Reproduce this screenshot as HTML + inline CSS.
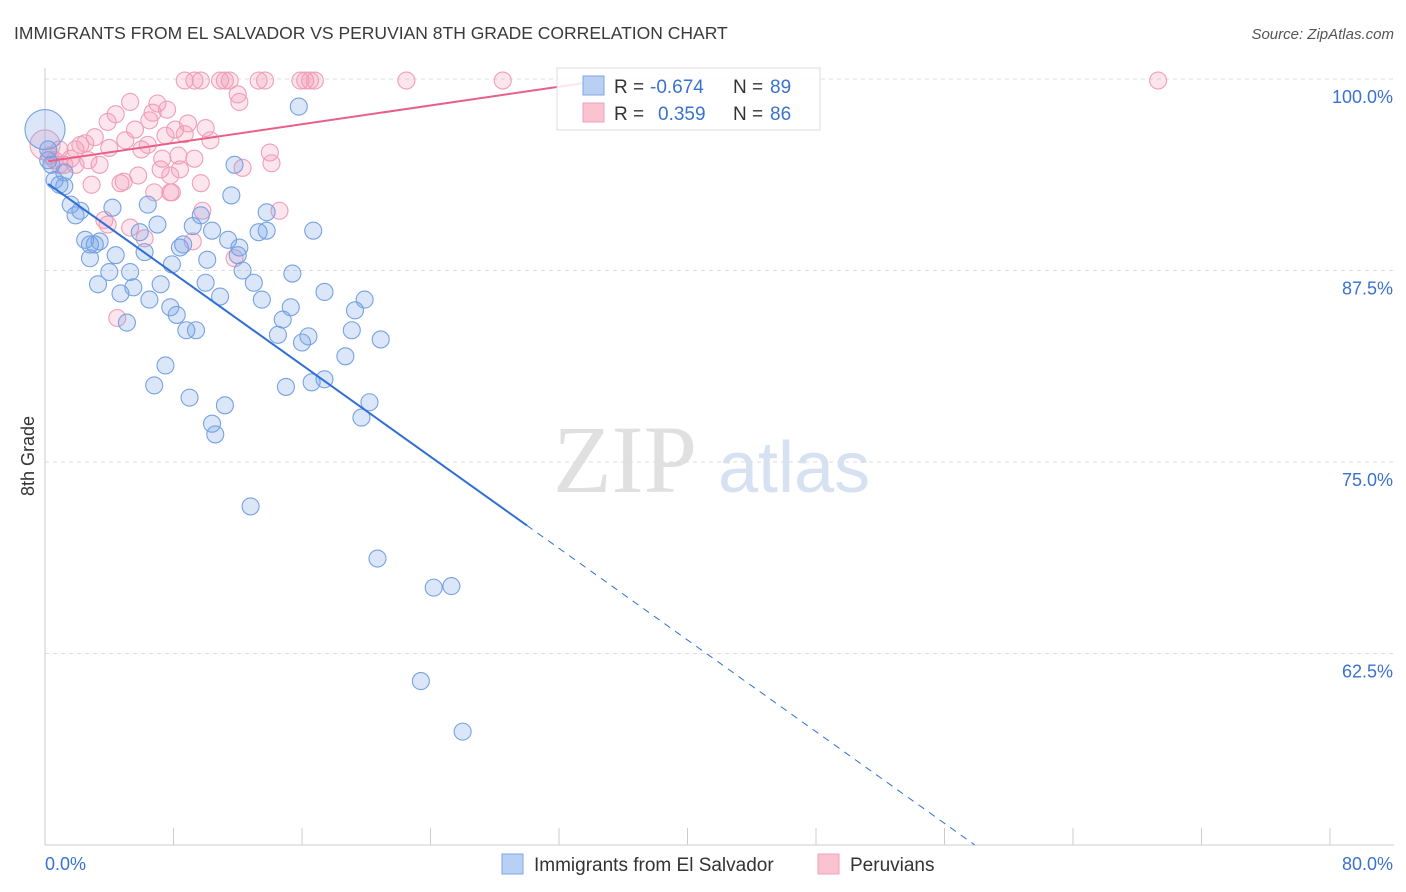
<!DOCTYPE html>
<html><head><meta charset="utf-8"><style>
body{margin:0;background:#fff;font-family:"Liberation Sans",sans-serif;}
</style></head><body>
<svg id="chart" width="1406" height="892" xmlns="http://www.w3.org/2000/svg" style="display:block">
<text x="14" y="39" font-size="17.5" fill="#3a3a3a">IMMIGRANTS FROM EL SALVADOR VS PERUVIAN 8TH GRADE CORRELATION CHART</text>
<text x="1394" y="39" font-size="15" fill="#555" text-anchor="end" font-style="italic">Source: ZipAtlas.com</text>
<g>
<text x="553" y="492" font-size="96" fill="#e0e0e0" font-family="Liberation Serif,serif">ZIP</text>
<text x="718" y="492" font-size="72" fill="#d6e2f2">atlas</text>
</g>
<g id="grid"></g>
<g id="axes"></g>
<g id="pts"></g>
<g id="trends"></g>
<text transform="translate(34,456) rotate(-90)" font-size="18" fill="#333" text-anchor="middle">8th Grade</text>
<g>
<rect x="557" y="68" width="263" height="62" fill="rgba(255,255,255,0.85)" stroke="#ddd"/>
<rect x="583" y="76" width="21" height="19" fill="#b7d0f4" stroke="#7ea6e4"/>
<rect x="583" y="103" width="21" height="19" fill="#f9c3d2" stroke="#eea0b8"/>
<text x="614" y="93" font-size="19" fill="#333">R =</text>
<text x="650" y="93" font-size="19" fill="#3a72cf">-0.674</text>
<text x="733" y="93" font-size="19" fill="#333">N =</text>
<text x="770" y="93" font-size="19" fill="#3a72cf">89</text>
<text x="614" y="120" font-size="19" fill="#333">R =</text>
<text x="658" y="120" font-size="19" fill="#3a72cf">0.359</text>
<text x="733" y="120" font-size="19" fill="#333">N =</text>
<text x="770" y="120" font-size="19" fill="#3a72cf">86</text>
</g>
<g>
<rect x="502" y="854" width="21" height="20" fill="#b7d0f4" stroke="#7ea6e4"/>
<text x="534" y="871" font-size="19" fill="#333">Immigrants from El Salvador</text>
<rect x="818" y="854" width="21" height="20" fill="#f9c3d2" stroke="#eea0b8"/>
<text x="850" y="871" font-size="19" fill="#333">Peruvians</text>
</g>
</svg>
<script>
const blueX=[0.0,0.2,0.4,0.9,1.2,1.6,1.9,2.2,2.5,2.8,3.1,3.4,3.3,4.0,4.4,4.2,4.7,5.1,5.3,5.5,5.9,6.2,6.5,6.4,6.8,7.0,7.2,7.5,7.8,7.9,8.2,8.4,8.6,8.8,9.0,9.2,9.4,9.7,10.0,10.1,10.4,10.6,10.4,10.9,11.2,11.4,11.6,11.8,12.0,12.1,12.3,12.8,13.0,13.3,13.5,13.8,13.8,14.5,14.8,15.0,15.3,15.4,15.8,16.0,16.4,16.6,16.7,17.4,17.4,18.7,19.1,19.3,19.9,20.2,19.7,20.7,20.9,23.4,24.2,25.3,26.0,0.2,0.6,1.2,2.8];
const blueY=[96.7,95.4,94.4,93.1,93.0,91.8,91.1,91.4,89.5,89.2,89.2,89.4,86.6,87.4,88.5,91.6,86.0,84.1,87.4,86.4,90.0,88.7,85.6,91.8,80.0,90.5,86.6,81.3,85.1,87.9,84.6,89.0,89.2,83.6,79.2,90.4,83.6,91.1,86.7,88.2,77.5,76.8,90.1,85.8,78.7,89.5,92.4,94.4,88.5,89.0,87.5,72.1,86.7,90.0,85.6,91.3,90.1,83.3,84.3,79.9,85.1,87.3,98.2,82.8,83.2,80.2,90.1,80.4,86.1,81.9,83.6,84.9,85.6,78.9,77.9,68.7,83.0,60.7,66.8,66.9,57.4,94.7,93.4,93.9,88.3];
const pinkX=[0.0,0.3,0.6,0.9,1.2,1.6,1.9,2.2,2.5,2.7,2.9,3.1,3.4,3.7,3.9,4.0,4.4,4.5,4.7,4.9,5.0,5.3,5.3,5.6,5.8,6.0,6.2,6.4,6.5,6.7,6.8,7.0,7.2,7.3,7.5,7.6,7.8,7.9,8.1,8.3,8.4,8.7,8.9,9.2,9.3,9.7,9.8,10.0,10.3,8.7,9.3,9.7,10.9,11.2,11.5,12.0,12.1,12.3,13.3,13.7,14.0,14.1,14.6,15.9,16.2,16.5,16.8,22.5,28.5,69.3,11.8,3.9,7.8,0.9,1.9];
const pinkY=[95.7,95.0,94.7,95.4,94.4,94.8,95.4,95.7,95.8,94.7,93.1,96.2,94.4,90.8,97.2,95.5,97.7,84.4,93.2,93.3,96.0,98.5,90.3,96.7,93.7,95.4,89.6,95.7,97.3,97.8,92.6,98.4,94.1,94.8,96.3,98.0,92.6,92.6,96.7,95.0,94.1,96.4,97.1,89.4,94.8,93.2,91.4,96.8,96.0,99.9,99.9,99.9,99.9,99.9,99.9,99.0,98.5,94.2,99.9,99.9,95.2,94.5,91.4,99.9,99.9,99.9,99.9,99.9,99.9,99.9,88.3,90.5,93.7,94.4,94.4];
const trendIntercept=[93.3,94.6];
const trendSlope=[-0.748,0.153];
const xTicks=[0,8,16,24,32,40,48,56,64,72,80];
const yTicks=[100,87.5,75,62.5];
const yTickLabels=["100.0%","87.5%","75.0%","62.5%"];

const X0=45,X1=1330,Y0=845;
const sx=v=>X0+(v/80)*(X1-X0);
const sy=v=>79+(100-v)*191.5/12.5;
const NS="http://www.w3.org/2000/svg";
function mk(tag,attrs,parent){const e=document.createElementNS(NS,tag);for(const k in attrs)e.setAttribute(k,attrs[k]);parent.appendChild(e);return e;}
const grid=document.getElementById('grid'),axes=document.getElementById('axes'),pts=document.getElementById('pts'),tr=document.getElementById('trends');
yTicks.forEach((t,i)=>{
  const l=mk('line',{x1:X0,x2:1394,y1:sy(t),y2:sy(t),stroke:'#ddd','stroke-dasharray':'4,4'},grid);
  
  
  const tx=mk('text',{x:1393,y:sy(t)+24,'font-size':18,fill:'#3a72cf','text-anchor':'end'},axes);
  tx.textContent=yTickLabels[i];
  
  
});
mk('line',{x1:X0,x2:X0,y1:68,y2:Y0,stroke:'#ccc'},axes);
mk('line',{x1:X0,x2:1394,y1:Y0,y2:Y0,stroke:'#ccc'},axes);
xTicks.forEach(t=>{
  const l=mk('line',{x1:sx(t),x2:sx(t),y1:Y0,y2:Y0-17,stroke:'#ccc'},axes);
  
  
});
const xl=mk('text',{x:45,y:870,'font-size':18,fill:'#3a72cf'},axes);xl.textContent='0.0%';


const xr=mk('text',{x:1393,y:870,'font-size':18,fill:'#3a72cf','text-anchor':'end'},axes);xr.textContent='80.0%';



pinkX.forEach((x,i)=>{
  const c=mk('circle',{cx:sx(x),cy:sy(pinkY[i]),r:i===0?15:8.5,fill:'rgba(244,150,180,0.25)',stroke:'#ef9fb8','stroke-width':1.1},pts);
  
  
});
blueX.forEach((x,i)=>{
  const c=mk('circle',{cx:sx(x),cy:sy(blueY[i]),r:i===0?20:8.5,fill:'rgba(110,160,230,0.25)',stroke:'#76a2e2','stroke-width':1.1},pts);
  
  
});
const bf=x=>trendIntercept[0]+trendSlope[0]*x;
const bEnd=(50-trendIntercept[0])/trendSlope[0];
const b1=mk('line',{x1:sx(0.2),y1:sy(bf(0.2)),x2:sx(30),y2:sy(bf(30)),stroke:'#2f6fd6','stroke-width':2},tr);


const b2=mk('line',{x1:sx(30),y1:sy(bf(30)),x2:sx(bEnd),y2:sy(50),stroke:'#2f6fd6','stroke-width':1,'stroke-dasharray':'7,6'},tr);


const pf=x=>trendIntercept[1]+trendSlope[1]*x;
const p1=mk('line',{x1:sx(0.2),y1:sy(pf(0.2)),x2:sx(34.6),y2:sy(pf(34.6)),stroke:'#e8608a','stroke-width':2},tr);


</script>
</body></html>
